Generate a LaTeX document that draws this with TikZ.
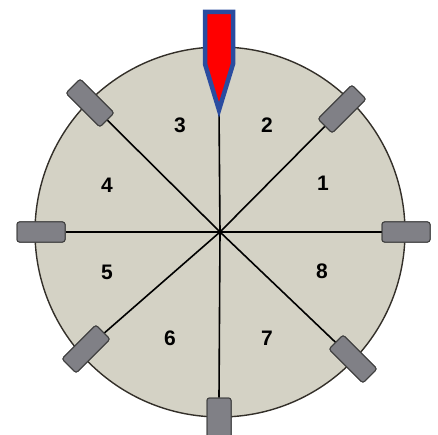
\documentclass[tikz,border=0pt]{standalone}
\usepackage{fontspec}
\setmainfont{Liberation Sans}
\begin{document}
\begin{tikzpicture}[x=1pt,y=-1pt,
  disc/.style={draw=black!85!olive, line width=1.4pt, fill=discfill},
  spoke/.style={draw=black, line width=1.6pt},
  pad/.style={draw=black!75, line width=1pt, fill=padfill, rounded corners=2.5pt, minimum width=48pt, minimum height=20pt, inner sep=0pt},
  vpad/.style={pad, minimum width=24pt, minimum height=44pt},
  num/.style={font=\fontsize{21}{21}\selectfont\bfseries}]
\definecolor{discfill}{RGB}{212,210,197}
\definecolor{padfill}{RGB}{128,128,134}
\definecolor{ptrblue}{RGB}{42,76,160}
\useasboundingbox (0,0) rectangle (438,435);
\coordinate (c) at (220,232);
\node[disc, circle, minimum size=370pt, inner sep=0pt] (d) at (c) {};
% pads
\node[pad] (pW) at (41,232) {};
\node[pad] (pE) at (406,232) {};
\node[pad, rotate=45] (pNE) at (342,109) {};
\node[pad, rotate=-45] (pNW) at (90,103) {};
\node[pad, rotate=-45] (pSE) at (353,359) {};
\node[pad, rotate=45] (pSW) at (86,349) {};
\node[vpad] (pS) at (219,420) {};
% spokes
\coordinate (tip) at (219,110);
\draw[spoke] (pW.east) -- (pE.west);
\draw[spoke] (c) -- (pNE);
\draw[spoke] (c) -- (pNW);
\draw[spoke] (c) -- (pSE);
\draw[spoke] (c) -- (pSW);
\draw[spoke] (c) -- (pS.north);
\draw[spoke] (c) -- (tip);
% redraw pads on top
\node[pad] at (41,232) {};
\node[pad] at (406,232) {};
\node[pad, rotate=45] at (342,109) {};
\node[pad, rotate=-45] at (90,103) {};
\node[pad, rotate=-45] at (353,359) {};
\node[pad, rotate=45] at (86,349) {};
\node[vpad] at (219,420) {};
% pointer
\draw[draw=ptrblue, line width=4.5pt, fill=red, line join=miter] (205,12) -- (233,12) -- (233,64) -- (tip) -- (205,64) -- cycle;
% numbers
\node[num] (n1) at (323,183) {1};
\node[num] (n2) at (267,125) {2};
\node[num] (n3) at (180,125) {3};
\node[num] (n4) at (107,185) {4};
\node[num] (n5) at (107,272) {5};
\node[num] (n6) at (170,338) {6};
\node[num] (n7) at (267,338) {7};
\node[num] (n8) at (322,271) {8};
\end{tikzpicture}
\end{document}
